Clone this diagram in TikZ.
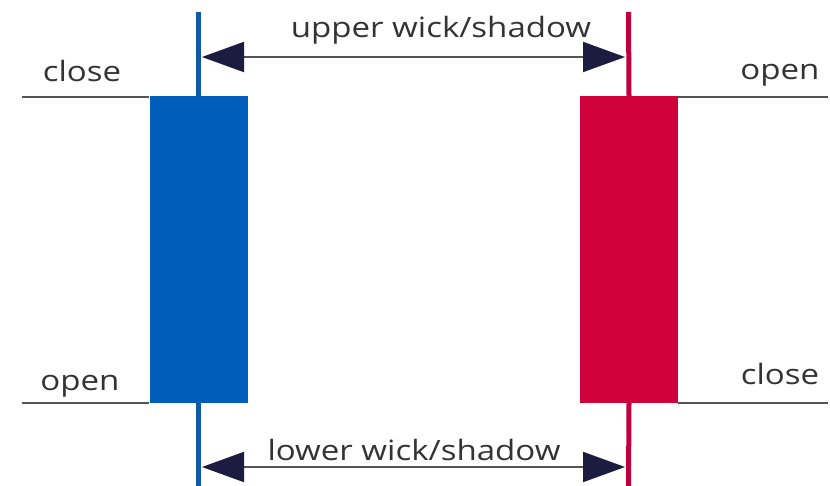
\documentclass[tikz,border=0pt]{standalone}
\usepackage{fontspec}
\setmainfont{Open Sans}
\usetikzlibrary{arrows.meta}
\definecolor{bullblue}{RGB}{0,94,186}
\definecolor{bullwick}{RGB}{16,90,165}
\definecolor{bearred}{RGB}{208,0,58}
\definecolor{bearwick}{RGB}{190,0,60}
\definecolor{tipnavy}{RGB}{28,28,64}
\definecolor{levelgrey}{RGB}{85,85,85}
\tikzset{
  body/.style={draw=none, minimum width=98pt, minimum height=307pt, inner sep=0pt},
  wick/.style={line width=5pt},
  level/.style={levelgrey, line width=2pt},
  span/.style={levelgrey, line width=2pt,
    {Triangle[length=42pt,width=30pt,color=tipnavy]}-{Triangle[length=42pt,width=30pt,color=tipnavy]}},
  lbl/.style={font=\fontsize{28}{30}\selectfont, text=black!80, inner sep=0pt, xscale=1.18, anchor=base}
}

\begin{document}
\begin{tikzpicture}[x=1pt, y=-1pt]
  \useasboundingbox (0,0) rectangle (830,486);
  % bullish candle: close above open
  \node[body, fill=bullblue] (bull) at (198.5,249.5) {};
  \coordinate (bulltop) at (198.5,12);
  \coordinate (bullbot) at (198.5,486);
  \draw[wick, bullwick] (bulltop) -- (bull.north);
  \draw[wick, bullwick] (bull.south) -- (bullbot);
  % bearish candle: open above close
  \node[body, fill=bearred] (bear) at (629,249.5) {};
  \coordinate (beartop) at (628.5,12);
  \coordinate (bearbot) at (628.5,486);
  \draw[wick, bearwick] (beartop) -- (bear.north);
  \draw[wick, bearwick] (bear.south) -- (bearbot);
  % price levels
  \coordinate (lhi) at (22,97);
  \coordinate (llo) at (22,403);
  \coordinate (rhi) at (828,97);
  \coordinate (rlo) at (828,403);
  \draw[level] (lhi) -- (bull.north west |- lhi);
  \draw[level] (llo) -- (bull.south west |- llo);
  \draw[level] (bear.north east |- rhi) -- (rhi);
  \draw[level] (bear.south east |- rlo) -- (rlo);
  \node[lbl] (lclose) at (82,82) {close};
  \node[lbl] (lopen)  at (80,390) {open};
  \node[lbl] (ropen)  at (780,80) {open};
  \node[lbl] (rclose) at (780,384) {close};
  % wick spans
  \coordinate (ua) at (202,57);
  \coordinate (ub) at (625,57);
  \coordinate (la) at (202,467);
  \coordinate (lb) at (625,467);
  \draw[span] (ua) -- (ub);
  \draw[span] (la) -- (lb);
  \node[lbl] (upper) at (441,38) {upper wick/shadow};
  \node[lbl] (lower) at (414,460) {lower wick/shadow};
\end{tikzpicture}
\end{document}
